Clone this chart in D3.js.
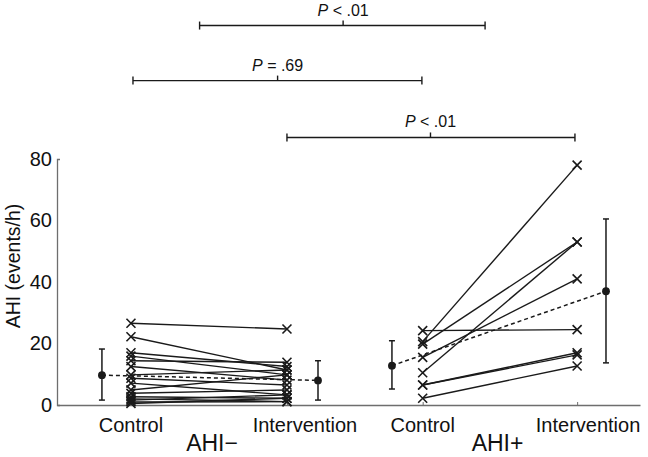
<!DOCTYPE html>
<html>
<head>
<meta charset="utf-8">
<script src="https://cdn.jsdelivr.net/npm/d3@7"></script>
<style>
  html, body { margin: 0; padding: 0; background: #fff; }
  svg { display: block; font-family: "Liberation Sans", Arial, sans-serif; }
</style>
</head>
<body>
<svg id="chart" width="648" height="457"></svg>
<script>
// ---- data ----
const categories = ["Control", "Intervention", "Control", "Intervention"];
const categoryPos = [1, 2, 2.87, 3.86];
const categoryLabelPos = [1, 2.115, 2.87, 3.93];
const groupLabels = ["AHI\u2212", "AHI+"];
const groupLabelPos = [1.52, 3.35];
const yTicks = [0, 20, 40, 60, 80];

// AHI- subjects (paired control / intervention)
const ahiNegControl      = [26.6, 22.2, 17.0, 15.9, 14.4, 12.5, 9.8, 8.7, 7.1, 4.9, 3.8, 2.7, 2.0, 1.6, 1.0, 0.5];
const ahiNegIntervention = [24.7, 11.4, 12.5, 9.8, 13.9, 8.1, 11.4, 6.5, 3.3, 9.8, 4.9, 2.2, 1.1, 3.3, 1.1, 2.2];
// AHI+ subjects
const ahiPosControl      = [24.2, 20.6, 19.8, 15.5, 10.5, 6.5, 6.5, 2.2];
const ahiPosIntervention = [24.5, 78.0, 53.0, 41.0, 53.0, 17.0, 16.3, 12.7];

// group means with error bars
const meanPos   = [0.814, 2.199, 2.673, 4.045];
const meanValue = [9.7, 8.0, 12.8, 37.0];
const meanLow   = [1.6, 1.6, 5.2, 13.7];
const meanHigh  = [18.2, 14.4, 20.9, 60.5];

// significance brackets
const bracketStart = [1.44, 1.013, 2.0];
const bracketEnd   = [3.27, 2.865, 3.846];
const bracketMid   = [2.36, 1.94, 2.92];
const bracketLevel = [123.4, 105.5, 87];
const bracketText  = [" < .01", " = .69", " < .01"];

// ---- drawing ----
const svg = d3.select("#chart");
const x = d3.scaleLinear().domain([0.526, 4.263]).range([57, 640]);
const y = d3.scaleLinear().domain([0, 80]).range([405, 159]);
const ink = "#1a1a1a";

// axes
const xAxis = svg.append("g").attr("transform", `translate(0,${y(0)})`)
  .call(d3.axisBottom(x).tickValues(categoryPos).tickSizeInner(-3).tickSizeOuter(0).tickFormat(""));
xAxis.select(".domain").attr("stroke", "#6e6e6e").attr("stroke-width", 1.3);
xAxis.selectAll(".tick line").attr("stroke", "#6e6e6e");

const yAxis = svg.append("g").attr("transform", `translate(${x.range()[0]},0)`)
  .call(d3.axisLeft(y).tickValues(yTicks).tickSizeInner(0).tickSizeOuter(-3).tickPadding(5));
yAxis.select(".domain").attr("stroke", "#6e6e6e").attr("stroke-width", 1.3);
yAxis.selectAll(".tick text").attr("font-size", 20).attr("fill", "#111")
  .attr("font-family", "'Liberation Sans', Arial, sans-serif");

svg.append("text")
  .attr("transform", `translate(20,266) rotate(-90)`)
  .attr("text-anchor", "middle").attr("font-size", 19.5).attr("fill", "#111")
  .text("AHI (events/h)");

// category labels
svg.append("g").selectAll("text").data(categories).join("text")
  .attr("x", (d, i) => x(categoryLabelPos[i])).attr("y", 432)
  .attr("text-anchor", "middle").attr("font-size", 20).attr("fill", "#111")
  .text(d => d);
svg.append("g").selectAll("text").data(groupLabels).join("text")
  .attr("x", (d, i) => x(groupLabelPos[i])).attr("y", 451)
  .attr("text-anchor", "middle").attr("font-size", 23).attr("fill", "#111")
  .text(d => d);

// paired subject lines and markers
function drawPairs(ctrl, intv, xc, xi) {
  const g = svg.append("g");
  g.selectAll("line").data(ctrl).join("line")
    .attr("x1", x(xc)).attr("x2", x(xi))
    .attr("y1", d => y(d)).attr("y2", (d, i) => y(intv[i]))
    .attr("stroke", ink).attr("stroke-width", 1.4);
  const s = 4.5;
  const cross = (cx, cy) => `M${cx - s},${cy - s}L${cx + s},${cy + s}M${cx - s},${cy + s}L${cx + s},${cy - s}`;
  g.selectAll("path.c").data(ctrl).join("path").attr("class", "c")
    .attr("d", d => cross(x(xc), y(d))).attr("stroke", ink).attr("stroke-width", 1.6).attr("fill", "none");
  g.selectAll("path.i").data(intv).join("path").attr("class", "i")
    .attr("d", d => cross(x(xi), y(d))).attr("stroke", ink).attr("stroke-width", 1.6).attr("fill", "none");
}
drawPairs(ahiNegControl, ahiNegIntervention, categoryPos[0], categoryPos[1]);
drawPairs(ahiPosControl, ahiPosIntervention, categoryPos[2], categoryPos[3]);

// mean dashed connectors
[[0, 1], [2, 3]].forEach(([a, b]) => {
  svg.append("line")
    .attr("x1", x(meanPos[a])).attr("y1", y(meanValue[a]))
    .attr("x2", x(meanPos[b])).attr("y2", y(meanValue[b]))
    .attr("stroke", ink).attr("stroke-width", 1.5).attr("stroke-dasharray", "4,3");
});

// error bars and mean dots
const eb = svg.append("g");
meanPos.forEach((p, i) => {
  const cx = x(p);
  eb.append("line").attr("x1", cx).attr("x2", cx).attr("y1", y(meanLow[i])).attr("y2", y(meanHigh[i]))
    .attr("stroke", ink).attr("stroke-width", 1.5);
  [meanLow[i], meanHigh[i]].forEach(v => {
    eb.append("line").attr("x1", cx - 3).attr("x2", cx + 3).attr("y1", y(v)).attr("y2", y(v))
      .attr("stroke", ink).attr("stroke-width", 1.5);
  });
  eb.append("circle").attr("cx", cx).attr("cy", y(meanValue[i])).attr("r", 3.9).attr("fill", ink);
});

// significance brackets
const br = svg.append("g");
bracketStart.forEach((s, i) => {
  const yy = y(bracketLevel[i]);
  br.append("line").attr("x1", x(s)).attr("x2", x(bracketEnd[i])).attr("y1", yy).attr("y2", yy)
    .attr("stroke", ink).attr("stroke-width", 1.4);
  [s, bracketEnd[i]].forEach(e => {
    br.append("line").attr("x1", x(e)).attr("x2", x(e)).attr("y1", yy - 4).attr("y2", yy + 4)
      .attr("stroke", ink).attr("stroke-width", 1.4);
  });
  br.append("line").attr("x1", x(bracketMid[i])).attr("x2", x(bracketMid[i])).attr("y1", yy - 5).attr("y2", yy)
    .attr("stroke", ink).attr("stroke-width", 1.4);
  const t = br.append("text").attr("x", x(bracketMid[i])).attr("y", yy - 10)
    .attr("text-anchor", "middle").attr("font-size", 16).attr("fill", "#111");
  t.append("tspan").attr("font-style", "italic").text("P");
  t.append("tspan").text(bracketText[i]);
});
</script>
</body>
</html>
